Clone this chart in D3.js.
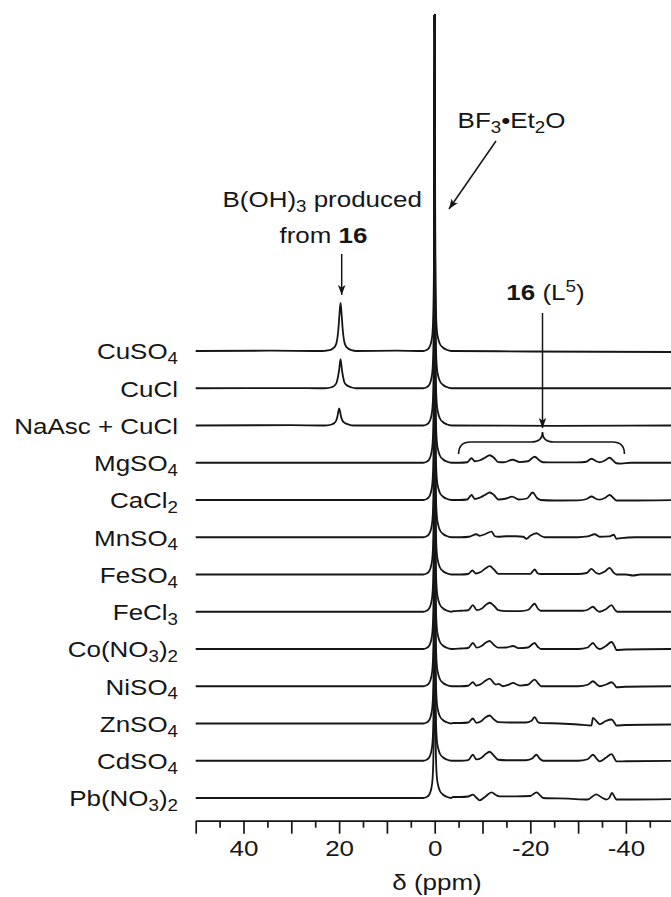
<!DOCTYPE html>
<html><head><meta charset="utf-8">
<script src="https://cdn.jsdelivr.net/npm/d3@7"></script>
<style>
body{margin:0;background:#fff}
svg{display:block}
text{font-family:"Liberation Sans",Arial,Helvetica,sans-serif;fill:#161616}
</style>
</head><body>
<svg id="c" width="671" height="897"></svg>
<script>
// ---------------- data ----------------
const labels = ["CuSO_4","CuCl","NaAsc + CuCl","MgSO_4","CaCl_2","MnSO_4","FeSO_4","FeCl_3","Co(NO_3)_2","NiSO_4","ZnSO_4","CdSO_4","Pb(NO_3)_2"];
const tickValues = d3.range(50, -51, -5);
const tickLabels = [40, 20, 0, -20, -40];

// BF3·Et2O reference peak (0 ppm), [ppm, intensity]
const bf3Left  = [[2.4,0],[1.7,1],[1.2,3],[0.9,6],[0.65,11],[0.45,19],[0.28,40],[0.12,110]];
const bf3Right = [[-0.12,100],[-0.28,38],[-0.45,21],[-0.7,13],[-1.1,7],[-1.7,3.5],[-2.5,1.2],[-3.5,0]];
const bf3Top   = [336,373,410,448,485,522,559,597,634,671,708,746,783];

// downfield part (50 → ~3 ppm) of each spectrum, B(OH)3 at ~20 ppm
const leftCuSO4 = [[50,0],[35,0.3],[24,0],[23,0.2],[22,0.8],[21.3,2.5],[20.8,5],[20.5,9],[20.3,15],[20.15,22],[19.95,35],[19.7,48],[19.45,35],[19.25,22],[19.1,15],[18.9,9],[18.6,5],[18.1,2.5],[17.4,0.8],[16.4,0],[8,0.3],[3,0]];
const leftCuCl  = [[50,0],[30,0.2],[23.5,0],[22.5,0.2],[21.6,1],[20.9,3],[20.5,6],[20.25,11],[20.0,18],[19.7,29],[19.4,18],[19.15,11],[18.9,6],[18.4,3],[17.5,1],[16.5,0],[3,0]];
const leftNaAsc = [[50,0],[30,0.3],[23.5,0],[22.5,0.2],[21.6,1],[21,2.5],[20.6,5],[20.35,9],[20.15,14],[20,17],[19.8,14],[19.6,9],[19.3,5],[18.8,2.5],[18,1],[17,0],[3,0]];
const leftFlat  = [[50,0],[25,0],[3,0]];

// upfield part (~-4 → -50 ppm): ligand 16 (L5) signals
const rightCuSO4 = [[-4,0],[-20,-0.5],[-50,-1]];
const rightCuCl  = [[-4,0],[-25,0],[-50,0]];
const rightNaAsc = [[-4,0],[-25,-0.3],[-50,0]];
const rightMg = [[-3.8,0],[-5.2,0],[-6.8,0.5],[-7.7,4.5],[-8.4,1.5],[-9.5,2.5],[-10.5,5],[-11.5,7.5],[-12.4,5],[-13.3,0.7],[-14.5,0.5],[-16.3,3],[-17.8,0.7],[-19.5,1.5],[-20.9,6],[-22,2],[-22.7,0.5],[-25,0.3],[-30,0.3],[-31.7,1],[-32.8,4],[-33.8,1.5],[-34.5,0.5],[-35.5,2],[-36.6,5],[-37.4,2],[-38,-0.5],[-39,-0.8],[-41,0],[-50,0]];
const rightCa = [[-3.8,0],[-5.2,0],[-6.8,0.5],[-7.7,5],[-8.4,1],[-9.5,2.5],[-10.5,5],[-11.5,7.5],[-12.4,5],[-13.3,0.5],[-15,1.5],[-16.2,3.3],[-17.6,0.5],[-19.3,1.5],[-20.5,7.5],[-21.4,2],[-22.2,0],[-25,-0.5],[-30,-0.3],[-31.8,1],[-32.8,3.5],[-33.8,1],[-34.5,0.3],[-35.6,2],[-36.6,5],[-37.5,1.5],[-38,-0.5],[-40,-0.5],[-50,0]];
const rightMn = [[-3.8,0],[-5.5,0],[-7.2,0.5],[-8.7,3],[-9.4,1.5],[-10.5,3],[-11.9,5.7],[-12.6,1],[-13.3,0.5],[-15,1],[-17,1],[-18.5,0.5],[-19.2,-1.5],[-20,1.5],[-21.3,4],[-22.2,1.5],[-23,0],[-30,0],[-32,0.8],[-33.5,3],[-34.5,0.5],[-36.5,0.8],[-37.5,2.5],[-38,-1.5],[-39,-0.8],[-42,0],[-50,0]];
const rightFeSO4 = [[-3.8,0],[-5.5,0],[-7,0.5],[-7.9,4],[-8.6,1],[-9.6,2.5],[-10.6,6],[-11.5,8.3],[-12.4,5],[-13.3,0.7],[-15,0.7],[-20,0.7],[-20.9,5],[-21.6,1],[-22.2,0.5],[-30,0.5],[-31.8,1.5],[-32.8,5.7],[-33.8,1.5],[-34.5,0.7],[-35.6,3],[-36.6,6.7],[-37.4,2],[-38,0],[-40,0],[-41.5,-1],[-43,0],[-50,0]];
const rightFeCl3 = [[-3.8,0.5],[-5.5,1],[-7,1.5],[-8,6.7],[-8.8,1.7],[-9.8,3],[-10.6,6.5],[-11.5,9],[-12.4,6],[-13.3,1.7],[-15,0.7],[-18,0.7],[-19.6,2],[-20.9,8],[-21.6,3],[-22.2,1],[-25,1],[-31,1],[-32,2],[-33.1,5],[-33.9,1.5],[-34.5,0],[-35.8,2.5],[-37,6.7],[-37.7,2],[-38.2,0],[-50,0]];
const rightCo = [[-3.8,0],[-5.5,0.5],[-7,1],[-8,6],[-8.8,1.3],[-9.8,3],[-10.6,6],[-11.5,8],[-12.4,4],[-13.3,1.3],[-15,1.5],[-16.4,3],[-17.5,0.8],[-19.5,1.5],[-20.9,6],[-21.6,2],[-22.2,0],[-30,0],[-32,1.5],[-33.1,6],[-33.9,1.5],[-34.5,0],[-35.8,3],[-37,7],[-37.7,2],[-38,-1],[-40,-0.5],[-50,0]];
const rightNi = [[-3.8,0],[-5.5,0],[-7,0.5],[-8,4],[-8.7,0.7],[-9.8,2.5],[-10.6,5.5],[-11.5,7.7],[-12.3,3.5],[-12.8,1.7],[-13.3,2.3],[-14.3,0],[-15.5,1.7],[-16.4,3.3],[-17.3,1.5],[-17.8,0.7],[-19.5,1.5],[-20.9,6.7],[-21.8,2],[-22.3,0],[-30,0],[-32,1.5],[-33.1,5],[-34,1.5],[-34.5,0],[-36,2],[-37,4],[-37.7,1],[-38,-1],[-40,-0.5],[-50,0]];
const rightZn = [[-3.8,0.5],[-5.5,0.5],[-7,1],[-8,5],[-8.7,0.7],[-9.8,2.5],[-10.6,6],[-11.5,8],[-12.4,4],[-13.3,1.3],[-16,1],[-19,1],[-20.2,2.5],[-20.9,6.3],[-21.6,1.5],[-22,0.7],[-26,0],[-30,-1],[-32.8,-2],[-33.1,5.7],[-34,1.5],[-34.5,-0.7],[-35.8,2.5],[-37,4],[-37.7,0],[-38,-2],[-40,-1.5],[-50,-1]];
const rightCd = [[-3.8,0],[-5.5,0],[-7,0.7],[-8,6],[-8.7,1.3],[-9.8,3],[-10.6,6.5],[-11.5,9],[-12.4,5],[-13.3,1],[-15,0.5],[-19,0.5],[-20.3,2],[-21.3,6],[-22,2],[-22.7,0],[-30,0],[-32,1.5],[-33.1,6],[-34,1.3],[-34.5,-0.7],[-35.8,3],[-37,6.7],[-37.7,1.5],[-38,-0.7],[-40,-0.5],[-50,0]];
const rightPb = [[-3.8,1],[-5.5,1],[-7,1.5],[-8,3.3],[-8.7,0.5],[-9.4,-2.3],[-10.5,1],[-11.9,5.7],[-12.8,3],[-13.5,1.7],[-17,1.7],[-20,2],[-21.3,5.7],[-22.2,2],[-22.7,0],[-28,-0.7],[-32,-1.5],[-33.8,3.7],[-34.8,1],[-35.9,-1.5],[-36.5,0],[-37.1,5],[-37.7,0.5],[-38,-1.5],[-40,-1.5],[-50,-1]];

const leftParts  = [leftCuSO4,leftCuCl,leftNaAsc,leftFlat,leftFlat,leftFlat,leftFlat,leftFlat,leftFlat,leftFlat,leftFlat,leftFlat,leftFlat];
const rightParts = [rightCuSO4,rightCuCl,rightNaAsc,rightMg,rightCa,rightMn,rightFeSO4,rightFeCl3,rightCo,rightNi,rightZn,rightCd,rightPb];

// ---------------- drawing ----------------
const svg = d3.select("#c");
const SX = 1.18; // horizontal text stretch of the original figure
const x = d3.scaleLinear().domain([50, -50]).range([195.7, 673.7]);
const rowY = d3.scalePoint().domain(labels).range([351, 798]);
const yI = d3.scaleLinear().domain([0, 100]).range([0, -100]);
const line = d3.line().x(d => x(d[0])).y(d => yI(d[1])).curve(d3.curveMonotoneX);

function rich(t, str, size) {
  let off = 0; const re = /([_^])(\d)|([^_^]+)/g; let m;
  while ((m = re.exec(str))) {
    let target, s, f;
    if (m[3]) { target = 0; s = m[3]; f = size; }
    else if (m[1] === '_') { target = size * 0.22; s = m[2]; f = size * 0.72; }
    else { target = -size * 0.38; s = m[2]; f = size * 0.72; }
    t.append("tspan").attr("dy", target - off).attr("font-size", f).text(s);
    off = target;
  }
}

const defs = svg.append("defs");
defs.append("marker").attr("id", "ah").attr("viewBox", "-10 -5 10 10")
  .attr("refX", 0).attr("refY", 0).attr("markerWidth", 10).attr("markerHeight", 10)
  .attr("markerUnits", "userSpaceOnUse").attr("orient", "auto")
  .append("path").attr("d", "M0,0 L-10,-3.8 L-7.5,0 L-10,3.8 Z").attr("fill", "#161616");

// spectra
const spectra = labels.map((lab, i) => ({
  label: lab,
  pts: leftParts[i].concat(bf3Left, [[0, bf3Top[i]]], bf3Right, rightParts[i])
}));
const gS = svg.append("g");
gS.selectAll("path").data(spectra).join("path")
  .attr("transform", d => `translate(0,${rowY(d.label)})`)
  .attr("d", d => line(d.pts))
  .attr("fill", "none").attr("stroke", "#161616").attr("stroke-width", 1.8)
  .attr("stroke-linejoin", "round");

// row labels
labels.forEach(lab => {
  const t = svg.append("text").attr("text-anchor", "end")
    .attr("transform", `translate(178,${rowY(lab) + 8.3}) scale(${SX},1)`)
    .attr("font-size", 22);
  rich(t, lab, 22);
});

// axis
const axis = d3.axisBottom(x).tickValues(tickValues).tickSize(13).tickSizeOuter(0)
  .tickFormat(d => tickLabels.includes(d) ? String(d) : "");
const gA = svg.append("g").attr("transform", "translate(0,820.7)").call(axis);
gA.select(".domain").attr("stroke", "#161616").attr("stroke-width", 1.8);
gA.selectAll(".tick line").attr("stroke", "#161616").attr("stroke-width", 1.7)
  .attr("y2", d => (d % 10 === 0 ? 13 : 7));
gA.selectAll(".tick text").attr("y", 35).attr("dy", null)
  .attr("font-size", 22).attr("font-family", "Liberation Sans, Arial, sans-serif")
  .attr("fill", "#161616").attr("transform", `scale(${SX},1)`);

// axis title
const tt = svg.append("text").attr("text-anchor", "middle")
  .attr("transform", `translate(437,890) scale(${SX},1)`).attr("font-size", 22);
tt.text("δ (ppm)");

// annotations
const bf = svg.append("text").attr("text-anchor", "middle")
  .attr("transform", `translate(511.5,128) scale(${SX},1)`).attr("font-size", 22);
rich(bf, "BF_3•Et_2O", 22);
svg.append("line").attr("x1", 496).attr("y1", 141).attr("x2", 449).attr("y2", 209)
  .attr("stroke", "#161616").attr("stroke-width", 1.5).attr("marker-end", "url(#ah)");

const b1 = svg.append("text").attr("text-anchor", "middle")
  .attr("transform", `translate(322.2,207) scale(${SX},1)`).attr("font-size", 22);
rich(b1, "B(OH)_3 produced", 22);
const b2 = svg.append("text").attr("text-anchor", "middle")
  .attr("transform", `translate(323.5,243) scale(${SX},1)`).attr("font-size", 22);
b2.append("tspan").text("from ");
b2.append("tspan").attr("font-weight", "bold").text("16");
svg.append("line").attr("x1", 341.7).attr("y1", 254).attr("x2", 341.7).attr("y2", 295)
  .attr("stroke", "#161616").attr("stroke-width", 1.5).attr("marker-end", "url(#ah)");

const l5 = svg.append("text").attr("text-anchor", "middle")
  .attr("transform", `translate(545.5,300) scale(${SX},1)`).attr("font-size", 22);
l5.append("tspan").attr("font-weight", "bold").text("16");
l5.append("tspan").text(" (L");
l5.append("tspan").attr("dy", -8).attr("font-size", 16).text("5");
l5.append("tspan").attr("dy", 8).text(")");
svg.append("line").attr("x1", 542.5).attr("y1", 313).attr("x2", 542.5).attr("y2", 428)
  .attr("stroke", "#161616").attr("stroke-width", 1.5).attr("marker-end", "url(#ah)");

// brace over the L5 signals
const bx0 = x(-5), bx1 = x(-39.7), bm = 542.5;
svg.append("path")
  .attr("d", `M${bx0},454 Q${bx0},442 ${bx0 + 12},442 L${bm - 11},442 Q${bm},442 ${bm},432 Q${bm},442 ${bm + 11},442 L${bx1 - 12},442 Q${bx1},442 ${bx1},454`)
  .attr("fill", "none").attr("stroke", "#161616").attr("stroke-width", 1.6);
</script>
</body></html>
